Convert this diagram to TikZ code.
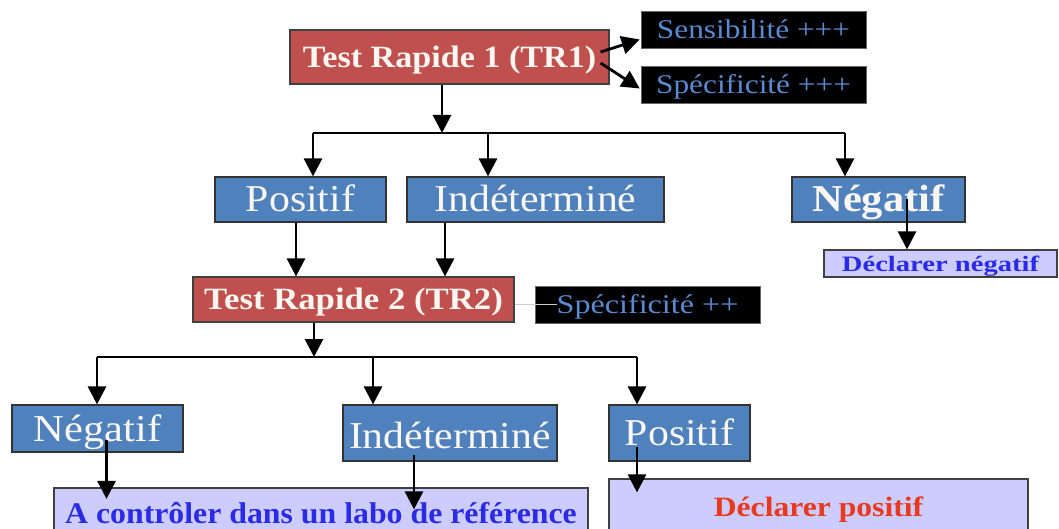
\documentclass[tikz,border=0pt]{standalone}
\usepackage{fontspec}
\setmainfont{Liberation Serif}
\usetikzlibrary{arrows.meta}
\definecolor{redbox}{HTML}{C0504D}
\definecolor{bluebox}{HTML}{4F81BD}
\definecolor{lavbox}{HTML}{CCCCFF}
\definecolor{steeltxt}{HTML}{5A8AD0}
\definecolor{whitetxt}{HTML}{FAF6F2}
\definecolor{bluetxt}{HTML}{2B2BE6}
\definecolor{redtxt}{HTML}{E8381E}
\newcommand{\sx}[2]{\scalebox{#1}[1]{#2}}
\tikzset{
  box/.style={rectangle, inner sep=0pt, text depth=0pt, anchor=center},
  redb/.style={box, fill=redbox, draw=black!75, line width=1.2pt, text=whitetxt,
    font=\bfseries\fontsize{31}{33}\selectfont, text height=20.5pt},
  blackb/.style={box, fill=black, draw=black!60, line width=0.6pt, text=steeltxt,
    font=\fontsize{27}{29}\selectfont, text height=17.5pt},
  blueb/.style={box, fill=bluebox, draw=black!80, line width=1.2pt, text=whitetxt,
    font=\fontsize{38}{40}\selectfont, text height=25pt},
  lavb/.style={box, fill=lavbox, draw=black!75, line width=1.2pt,
    font=\bfseries\fontsize{30}{32}\selectfont, text height=20pt},
  arr/.style={-{Triangle[width=18pt,length=18pt]}, line width=2.8pt, black},
  hline/.style={line width=2.2pt, black}
}
\begin{document}
\begin{tikzpicture}[x=1pt,y=-1pt]
\useasboundingbox[fill=white] (0,0) rectangle (1059,529);
% top test
\node[redb, minimum width=319pt, minimum height=54pt] (tr1) at (449.5,57) {\sx{1.1}{Test Rapide 1 (TR1)}};
\node[blackb, minimum width=225pt, minimum height=37pt] (sens) at (753.5,29.5) {\sx{1.16}{Sensibilité +++}};
\node[blackb, minimum width=225pt, minimum height=37pt] (spec1) at (753.5,84.5) {\sx{1.16}{Spécificité +++}};
% first results
\node[blueb, minimum width=171pt, minimum height=45pt] (pos1) at (300.5,199.5) {\sx{1.1}{Positif}};
\node[blueb, minimum width=257pt, minimum height=45pt] (ind1) at (535.5,199.5) {\sx{1.1}{Indéterminé}};
\node[blueb, minimum width=173pt, minimum height=45pt, font=\bfseries\fontsize{38}{40}\selectfont] (neg1) at (878.5,199.5) {\sx{1.12}{Négatif}};
\node[lavb, minimum width=233pt, minimum height=27pt, text=bluetxt, font=\bfseries\fontsize{22}{24}\selectfont, text height=15pt] (decneg) at (940.5,263.5) {\sx{1.3}{Déclarer négatif}};
% second test
\node[redb, minimum width=321pt, minimum height=45pt] (tr2) at (353.5,299.5) {\sx{1.12}{Test Rapide 2 (TR2)}};
\node[blackb, minimum width=225pt, minimum height=37pt] (spec2) at (647.5,304.5) {\sx{1.19}{Spécificité ++}};
% second results
\node[blueb, minimum width=171pt, minimum height=47pt] (neg2) at (97.5,428.5) {\sx{1.12}{Négatif}};
\node[blueb, minimum width=214pt, minimum height=56pt, text height=30pt] (ind2) at (450,433) {\sx{1.1}{Indéterminé}};
\node[blueb, minimum width=141pt, minimum height=56pt] (pos2) at (679.5,433) {\sx{1.1}{Positif}};
\node[lavb, minimum width=534pt, minimum height=50pt, text=bluetxt] (ctrl) at (321,513) {\sx{1.06}{A contrôler dans un labo de référence}};
\node[lavb, minimum width=419pt, minimum height=57pt, text=redtxt, font=\bfseries\fontsize{28}{30}\selectfont, text height=18.5pt] (decpos) at (818.5,507.5) {\sx{1.13}{Déclarer positif}};
% junction coordinates
\coordinate (j1) at (442,133);
\coordinate (j1l) at (313,133);
\coordinate (j1m) at (488,133);
\coordinate (j1r) at (845,133);
\coordinate (j2) at (314,357);
\coordinate (j2l) at (97,357);
\coordinate (j2m) at (373,357);
\coordinate (j2r) at (637,357);
% connectors top
\draw[arr] ([shift={(-9,-5)}]tr1.east) -- ([shift={(-1,10)}]sens.west);
\draw[arr] ([shift={(-9,6)}]tr1.east) -- ([shift={(-1,4)}]spec1.west);
\draw[arr] (tr1.south -| j1) -- (j1);
\draw[hline] (j1l) -- (j1r);
\draw[arr] (j1l) -- (j1l |- pos1.north);
\draw[arr] (j1m) -- (j1m |- ind1.north);
\draw[arr] (j1r) -- (j1r |- neg1.north);
\draw[arr] ([xshift=28.5pt]neg1.center) -- ([xshift=28.5pt]neg1.center |- decneg.north);
\draw[arr] ([xshift=-4.5pt]pos1.south) -- ([xshift=-4.5pt]pos1.south |- tr2.north);
\draw[arr] ([xshift=-90.5pt]ind1.south) -- ([xshift=-90.5pt]ind1.south |- tr2.north);
\draw[line width=1pt, black!20] (tr2.east |- spec2.west) -- ([xshift=22pt]spec2.west);
% connectors bottom
\draw[arr] (tr2.south -| j2) -- (j2);
\draw[hline] (j2l) -- (j2r);
\draw[arr] (j2l) -- (j2l |- neg2.north);
\draw[arr] (j2m) -- (j2m |- ind2.north);
\draw[arr] (j2r) -- (j2r |- pos2.north);
\draw[arr] ([shift={(9,11.5)}]neg2.center) -- ([shift={(9,11.5)}]neg2.center |- ctrl.north);
\draw[arr] ([shift={(-36,22)}]ind2.center) -- ([shift={(-36,22)}]ind2.center |- ctrl.north);
\draw[arr] ([shift={(-42.5,14)}]pos2.center) -- ([shift={(-42.5,14)}]pos2.center |- decpos.north);
\end{tikzpicture}
\end{document}
